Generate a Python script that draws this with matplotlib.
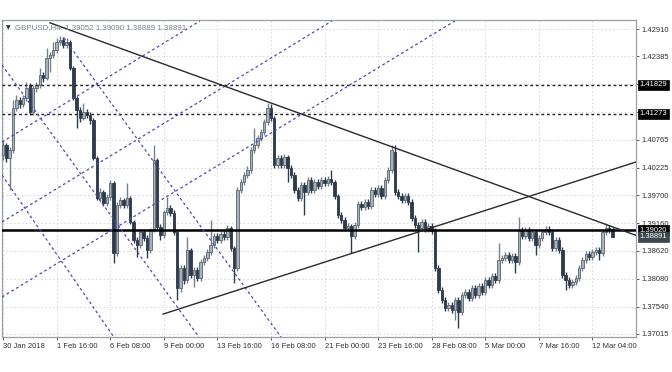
import matplotlib
matplotlib.use('Agg')
import matplotlib.pyplot as plt
from matplotlib.patches import Rectangle

# ---------------- data ----------------
opens = [1.4047,1.4067,1.4042,1.4057,1.4138,1.4154,1.4146,1.4158,1.4183,1.4131,
         1.4177,1.4183,1.4202,1.4196,1.4235,1.4241,1.4250,1.4266,1.4270,1.4260,
         1.4266,1.4216,1.4158,1.4134,1.4119,1.4131,1.4125,1.4115,1.4042,1.3965,
         1.3976,1.3955,1.3967,1.3993,1.3858,1.3951,1.3961,1.3951,1.3965,1.3918,
         1.3883,1.3874,1.3898,1.3887,1.3864,1.3902,1.4038,1.3908,1.3893,1.3937,
         1.3945,1.3935,1.3898,1.3790,1.3829,1.3806,1.3864,1.3815,1.3825,1.3810,
         1.3841,1.3848,1.3860,1.3874,1.3891,1.3883,1.3895,1.3889,1.3906,1.3868,
         1.3829,1.3980,1.3995,1.4009,1.4018,1.4057,1.4067,1.4080,1.4092,1.4111,
         1.4138,1.4119,1.4028,1.4042,1.4028,1.4044,1.4022,1.4009,1.3980,1.3965,
         1.3989,1.3976,1.3999,1.3980,1.3995,1.3988,1.3999,1.3993,1.4001,1.3995,
         1.3968,1.3931,1.3922,1.3906,1.3910,1.3891,1.3912,1.3953,1.3947,1.3957,
         1.3949,1.3980,1.3972,1.3984,1.3968,1.3999,1.4018,1.4053,1.3976,1.3968,
         1.3961,1.3968,1.3957,1.3926,1.3912,1.3906,1.3918,1.3904,1.3910,1.3900,
         1.3829,1.3786,1.3767,1.3752,1.3757,1.3748,1.3767,1.3744,1.3777,1.3783,
         1.3771,1.3790,1.3777,1.3794,1.3783,1.3806,1.3796,1.3813,1.3806,1.3845,
         1.3848,1.3854,1.3845,1.3852,1.3841,1.3902,1.3891,1.3902,1.3887,1.3898,
         1.3874,1.3887,1.3898,1.3904,1.3898,1.3868,1.3883,1.3864,1.3815,1.3806,
         1.3796,1.3802,1.3810,1.3829,1.3845,1.3856,1.3850,1.3860,1.3864,1.3858,
         1.3898,1.3906,1.39052]
closes = [1.4067,1.4042,1.4057,1.4138,1.4154,1.4146,1.4158,1.4177,1.4131,1.4177,
          1.4183,1.4202,1.4196,1.4235,1.4241,1.4250,1.4266,1.4270,1.4260,1.4266,
          1.4216,1.4158,1.4134,1.4119,1.4131,1.4125,1.4115,1.4042,1.3965,1.3976,
          1.3955,1.3967,1.3993,1.3858,1.3951,1.3961,1.3951,1.3965,1.3918,1.3883,
          1.3874,1.3898,1.3887,1.3864,1.3902,1.4038,1.3908,1.3893,1.3937,1.3945,
          1.3935,1.3898,1.3790,1.3829,1.3806,1.3864,1.3815,1.3825,1.3810,1.3841,
          1.3848,1.3860,1.3874,1.3891,1.3883,1.3895,1.3889,1.3906,1.3868,1.3829,
          1.3980,1.3995,1.4009,1.4018,1.4057,1.4067,1.4080,1.4092,1.4111,1.4138,
          1.4119,1.4028,1.4042,1.4028,1.4044,1.4022,1.4009,1.3980,1.3965,1.3989,
          1.3976,1.3999,1.3980,1.3995,1.3988,1.3999,1.3993,1.4001,1.3995,1.3968,
          1.3931,1.3922,1.3906,1.3910,1.3891,1.3912,1.3953,1.3947,1.3957,1.3949,
          1.3980,1.3972,1.3984,1.3968,1.3999,1.4018,1.4057,1.3976,1.3968,1.3961,
          1.3968,1.3957,1.3926,1.3912,1.3906,1.3918,1.3904,1.3910,1.3900,1.3829,
          1.3786,1.3767,1.3752,1.3757,1.3748,1.3767,1.3744,1.3777,1.3783,1.3771,
          1.3790,1.3777,1.3794,1.3783,1.3806,1.3796,1.3813,1.3806,1.3845,1.3848,
          1.3854,1.3845,1.3852,1.3841,1.3902,1.3891,1.3902,1.3887,1.3898,1.3874,
          1.3887,1.3898,1.3904,1.3898,1.3868,1.3883,1.3864,1.3815,1.3806,1.3796,
          1.3802,1.3810,1.3829,1.3845,1.3856,1.3850,1.3860,1.3864,1.3858,1.3898,
          1.3906,1.3902,1.38891]
highs = [1.4077,1.4071,1.4063,1.4154,1.4163,1.4160,1.4163,1.4189,1.4187,1.4183,
         1.4189,1.4216,1.4208,1.4254,1.4247,1.4266,1.4274,1.4278,1.4276,1.4274,
         1.4270,1.4220,1.4161,1.4140,1.4148,1.4136,1.4131,1.4119,1.4046,1.3984,
         1.3980,1.3972,1.3999,1.3997,1.3957,1.3967,1.3965,1.3993,1.3968,1.3922,
         1.3889,1.3904,1.3904,1.3893,1.3906,1.4067,1.4042,1.3914,1.3941,1.3967,
         1.3951,1.3941,1.3902,1.3835,1.3835,1.3889,1.3868,1.3831,1.3831,1.3847,
         1.3854,1.3866,1.3922,1.3897,1.3897,1.3900,1.3900,1.3912,1.3910,1.3872,
         1.3986,1.4001,1.4015,1.4026,1.4063,1.4100,1.4086,1.4098,1.4117,1.4148,
         1.4146,1.4123,1.4047,1.4047,1.4049,1.4047,1.4028,1.4015,1.3986,1.3995,
         1.3995,1.4005,1.4005,1.4001,1.4001,1.4005,1.4005,1.4007,1.4018,1.3999,
         1.3972,1.3937,1.3928,1.3916,1.3914,1.3918,1.3959,1.3959,1.3962,1.3962,
         1.3986,1.3986,1.3989,1.3989,1.4005,1.4024,1.4067,1.4067,1.3982,1.3974,
         1.3974,1.3974,1.3962,1.3931,1.3918,1.3924,1.3924,1.3916,1.3916,1.3906,
         1.3835,1.3792,1.3773,1.3763,1.3763,1.3773,1.3773,1.3783,1.3788,1.3788,
         1.3796,1.3796,1.3800,1.3800,1.3812,1.3812,1.3819,1.3819,1.3877,1.3854,
         1.3860,1.3860,1.3858,1.3858,1.3928,1.3908,1.3908,1.3908,1.3904,1.3904,
         1.3893,1.3904,1.3910,1.3910,1.3904,1.3889,1.3889,1.3870,1.3821,1.3812,
         1.3808,1.3815,1.3835,1.3850,1.3862,1.3862,1.3866,1.3870,1.3870,1.3904,
         1.3914,1.3912,1.39090]
lows = [1.4038,1.4034,1.3980,1.4051,1.4133,1.4138,1.4140,1.4152,1.4125,1.4125,
        1.4169,1.4177,1.4189,1.4192,1.4208,1.4235,1.4244,1.4260,1.4254,1.4254,
        1.4212,1.4154,1.4100,1.4111,1.4115,1.4119,1.4107,1.4038,1.3961,1.3957,
        1.3949,1.3949,1.3961,1.3839,1.3852,1.3945,1.3945,1.3945,1.3914,1.3877,
        1.3850,1.3868,1.3881,1.3848,1.3858,1.3898,1.3902,1.3883,1.3887,1.3931,
        1.3929,1.3893,1.3767,1.3783,1.3798,1.3800,1.3810,1.3792,1.3804,1.3804,
        1.3835,1.3843,1.3854,1.3868,1.3877,1.3877,1.3883,1.3883,1.3862,1.3800,
        1.3823,1.3974,1.3989,1.4003,1.4013,1.4051,1.4061,1.4074,1.4086,1.4105,
        1.4113,1.4022,1.4022,1.4022,1.4022,1.3995,1.4003,1.3974,1.3959,1.3959,
        1.3931,1.3970,1.3974,1.3974,1.3982,1.3982,1.3988,1.3988,1.3989,1.3962,
        1.3926,1.3916,1.3900,1.3900,1.3858,1.3885,1.3906,1.3941,1.3941,1.3943,
        1.3943,1.3967,1.3967,1.3962,1.3962,1.3993,1.4013,1.3970,1.3962,1.3955,
        1.3955,1.3951,1.3920,1.3906,1.3860,1.3900,1.3898,1.3898,1.3895,1.3823,
        1.3781,1.3761,1.3746,1.3746,1.3742,1.3729,1.3713,1.3738,1.3771,1.3765,
        1.3765,1.3771,1.3771,1.3777,1.3777,1.3790,1.3790,1.3800,1.3800,1.3839,
        1.3843,1.3839,1.3839,1.3819,1.3835,1.3885,1.3885,1.3881,1.3881,1.3854,
        1.3868,1.3881,1.3893,1.3893,1.3862,1.3862,1.3858,1.3810,1.3786,1.3790,
        1.3790,1.3796,1.3804,1.3823,1.3839,1.3845,1.3845,1.3854,1.3845,1.3852,
        1.3893,1.3897,1.38889]

x_tick_pos = [0, 16, 32, 48, 64, 80, 96, 112, 128, 144, 160, 176]
x_tick_labels = ['30 Jan 2018', '1 Feb 16:00', '6 Feb 08:00', '9 Feb 00:00',
                 '13 Feb 16:00', '16 Feb 08:00', '21 Feb 00:00', '23 Feb 16:00',
                 '28 Feb 08:00', '5 Mar 00:00', '7 Mar 16:00', '12 Mar 04:00']
y_tick_pos = [1.42910, 1.42385, 1.41845, 1.41305, 1.40765, 1.40225, 1.39700,
              1.39160, 1.38620, 1.38080, 1.37540, 1.37015]
y_tick_labels = ['1.42910', '1.42385', '', '', '1.40765', '1.40225', '1.39700',
                 '1.39160', '1.38620', '1.38080', '1.37540', '1.37015']

resistance_levels = [1.41829, 1.41273]
support_level = 1.39020
last_price = 1.38891
header = 'GBPUSD,H4  1.39052 1.39090 1.38889 1.38891'

# trend lines: (bar index, price) endpoints
trend_down_x = [14.0, 189.5]
trend_down_y = [1.4303, 1.3891]
trend_up_x = [47.8, 189.5]
trend_up_y = [1.3740, 1.4035]

# blue dashed channel lines: (x0, p0, x1, p1)
channel_lines = [
    (-0.3, 1.40088, 33.1, 1.36957),
    (-0.3, 1.42214, 58.5, 1.36957),
    (18.2, 1.42736, 83.0, 1.36957),
    (-0.3, 1.40726, 58.8, 1.43065),
    (-0.3, 1.39180, 98.2, 1.43065),
    (-0.3, 1.37730, 134.9, 1.43065),
]

XMIN, XMAX = -0.3, 189.0
YMIN, YMAX = 1.36957, 1.43084

# ---------------- drawing ----------------
FONT = ['Liberation Sans', 'DejaVu Sans']
plt.rcParams['font.family'] = FONT
FS = 5.5

fig = plt.figure(figsize=(6.72, 3.72), dpi=100)
ax = fig.add_axes([2/672, 35/372, 634/672, 317/372])
ax.set_xlim(XMIN, XMAX)
ax.set_ylim(YMIN, YMAX)

# grid
for yv in y_tick_pos:
    ax.axhline(yv, color='#d4d4d4', lw=0.7, ls=(0, (1.5, 2.5)), zorder=0)
for xv in x_tick_pos:
    ax.axvline(xv, color='#d4d4d4', lw=0.7, ls=(0, (1.5, 2.5)), zorder=0)

# candles
BULL_FILL, BULL_EDGE = '#a9b2bb', '#5a6672'
BEAR_FILL = '#2e3b4a'
WICK = '#76808b'
bw = 0.72
for i, (o, h, l, c) in enumerate(zip(opens, highs, lows, closes)):
    bull = c >= o
    ax.plot([i, i], [l, h], color=WICK if bull else BEAR_FILL, lw=1.0,
            solid_capstyle='butt', zorder=3)
    lo, hi = min(o, c), max(o, c)
    ax.add_patch(Rectangle((i - bw/2, lo), bw, max(hi - lo, 0.00004),
                           facecolor=BULL_FILL if bull else BEAR_FILL,
                           edgecolor=BULL_EDGE if bull else BEAR_FILL,
                           lw=0.6, zorder=4))

# horizontal levels
for lv in resistance_levels:
    ax.axhline(lv, color='#202020', lw=1.0, ls=(0, (2, 2)), zorder=5)
ax.axhline(support_level, color='#000000', lw=1.8, zorder=5)

# blue channel lines
for x0, p0, x1, p1 in channel_lines:
    ax.plot([x0, x1], [p0, p1], color='#4a4ab8', lw=0.9, ls=(0, (2.2, 2.2)), zorder=5)

# trend lines
ax.plot(trend_down_x, trend_down_y, color='#2a2a2a', lw=1.0, zorder=6)
ax.plot(trend_up_x, trend_up_y, color='#2a2a2a', lw=1.0, zorder=6)

# axes styling
for s in ax.spines.values():
    s.set_color('#9aa0a6')
    s.set_linewidth(0.9)
ax.yaxis.tick_right()
ax.set_yticks(y_tick_pos)
ax.set_yticklabels(y_tick_labels)
ax.set_xticks(x_tick_pos)
ax.set_xticklabels(x_tick_labels)
ax.tick_params(axis='both', colors='#606060', labelcolor='#303030',
               labelsize=FS, length=2.5, width=0.7, pad=1.5)
for lab in ax.get_xticklabels():
    lab.set_horizontalalignment('left')

# price boxes on the right axis
def price_box(val, bg):
    ax.annotate(f'{val:.5f}', xy=(1.0, val), xycoords=('axes fraction', 'data'),
                xytext=(2.6, 0), textcoords='offset points',
                ha='left', va='center', fontsize=FS, color='white',
                bbox=dict(boxstyle='square,pad=0.2', fc=bg, ec=bg, lw=0.5),
                zorder=10, annotation_clip=False)

for lv in resistance_levels:
    price_box(lv, '#000000')
price_box(support_level, '#000000')
price_box(last_price, '#3c4752')

# header
ax.text(0.007, 0.975, '\u25BC', transform=ax.transAxes, fontsize=4.3,
        color='#303030', va='center', ha='left', family=['DejaVu Sans'], zorder=10)
ax.text(0.021, 0.975, header, transform=ax.transAxes, fontsize=5.7,
        color='#7a8190', va='center', ha='left', zorder=10)

fig.savefig('out.png', dpi=100, facecolor='white')
